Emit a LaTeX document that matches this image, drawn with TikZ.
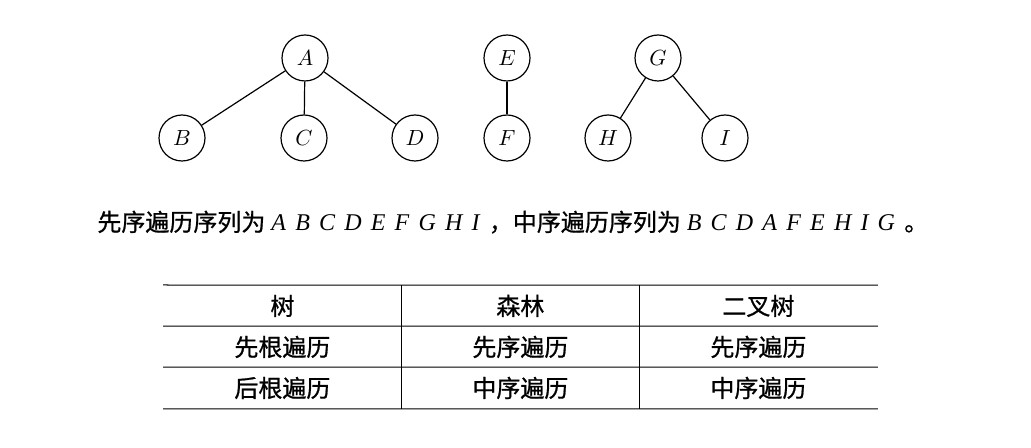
\documentclass[tikz,border=0pt]{standalone}
\usepackage{fontspec}
\setmainfont{Liberation Serif}
\newfontfamily\cjk[FakeBold=0.8]{Noto Sans CJK SC}
\usetikzlibrary{matrix}

\tikzset{
  vertex/.style={circle, draw, line width=0.6pt, minimum size=23pt,
    inner sep=0pt, font=\fontsize{11}{13}\selectfont},
  seqtext/.style={inner sep=0pt, font=\fontsize{12}{14}\selectfont},
  tabrule/.style={line width=0.5pt}
}

\begin{document}
\begin{tikzpicture}[x=0.5pt, y=-0.5pt, ampersand replacement=\&]
    \useasboundingbox (0,0) rectangle (1031,448);
    % the forest
    \node[vertex] (a) at (305,58)  {$A$};
    \node[vertex] (b) at (182,138) {$B$};
    \node[vertex] (c) at (304,138) {$C$};
    \node[vertex] (d) at (415,138) {$D$};
    \node[vertex] (e) at (507,58)  {$E$};
    \node[vertex] (f) at (507,138) {$F$};
    \node[vertex] (g) at (658,58)  {$G$};
    \node[vertex] (h) at (608,138) {$H$};
    \node[vertex] (i) at (725,138) {$I$};
    \path[line width=0.6pt]
      (a) edge (b)
          edge (c)
          edge (d)
      (e) edge (f)
      (g) edge (h)
          edge (i);
    % traversal sequences
    \node[seqtext, anchor=base west] (seq) at (97,231)
      {{\cjk 先序遍历序列为} {\itshape\spaceskip=4.6pt A B C D E F G H I }{\cjk ，中序遍历序列为} {\itshape\spaceskip=4.6pt B C D A F E H I G }{\cjk 。}};
    % correspondence table
    \matrix (m) [matrix of nodes, anchor=north west, inner sep=0pt,
      row sep=0pt, column sep=0pt,
      nodes={inner sep=0pt, minimum width=119pt, minimum height=20.5pt,
        font=\cjk\fontsize{12}{14}\selectfont}] at (163,285) {
      树       \& 森林     \& 二叉树   \\
      先根遍历 \& 先序遍历 \& 先序遍历 \\
      后根遍历 \& 中序遍历 \& 中序遍历 \\
    };
    \draw[tabrule] (m-1-1.north west) -- (m-1-3.north east);
    \draw[tabrule] (m-2-1.north west) -- (m-2-3.north east);
    \draw[tabrule] (m-3-1.north west) -- (m-3-3.north east);
    \draw[tabrule] (m-3-1.south west) -- (m-3-3.south east);
    \draw[tabrule] (m-1-2.north west) -- (m-3-2.south west);
    \draw[tabrule] (m-1-3.north west) -- (m-3-3.south west);
\end{tikzpicture}
\end{document}
